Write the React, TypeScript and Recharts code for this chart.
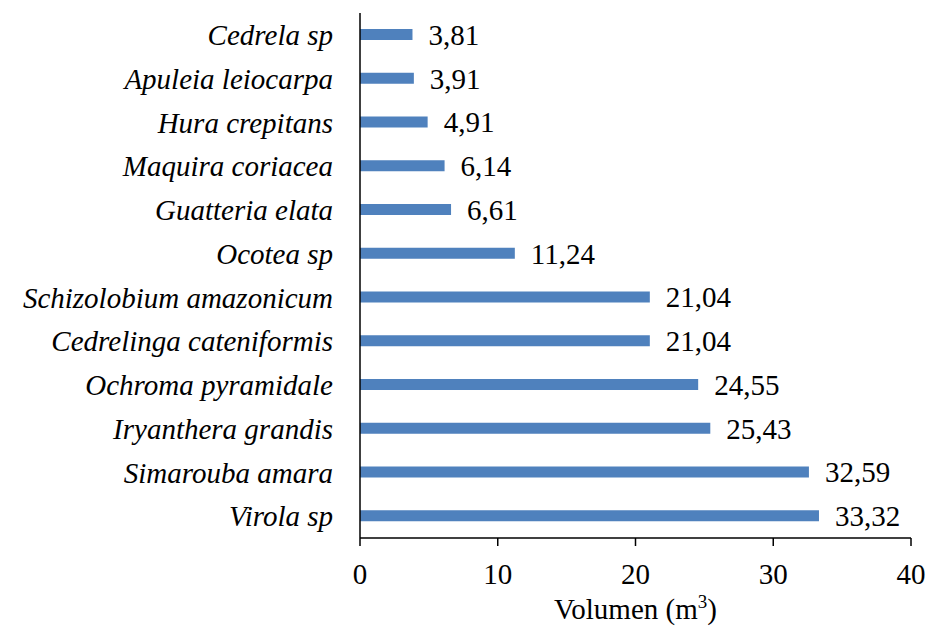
import { BarChart, Bar, XAxis, YAxis, LabelList, Label } from 'recharts';

const species = [
  'Cedrela sp',
  'Apuleia leiocarpa',
  'Hura crepitans',
  'Maquira coriacea',
  'Guatteria elata',
  'Ocotea sp',
  'Schizolobium amazonicum',
  'Cedrelinga cateniformis',
  'Ochroma pyramidale',
  'Iryanthera grandis',
  'Simarouba amara',
  'Virola sp',
];

const volumes = [3.81, 3.91, 4.91, 6.14, 6.61, 11.24, 21.04, 21.04, 24.55, 25.43, 32.59, 33.32];

const xTicks = [0, 10, 20, 30, 40];

const data = species.map((name, i) => ({ name, value: volumes[i] }));

const FONT = "'Liberation Serif', 'Times New Roman', serif";

function AxisTitle({ viewBox }: any) {
  const cx = viewBox.x + viewBox.width / 2;
  return (
    <text x={cx} y={619} textAnchor="middle" style={{ fontFamily: FONT, fontSize: 29 }} fill="#000">
      Volumen (m
      <tspan dy={-11} style={{ fontSize: 19 }}>3</tspan>
      <tspan dy={11}>)</tspan>
    </text>
  );
}

export default function App() {
  return (
    <div style={{ position: 'absolute', left: 0, top: 0, background: '#fff' }}>
      <BarChart
        width={928}
        height={629}
        data={data}
        layout="vertical"
        barSize={11}
        margin={{ top: 13, right: 17, bottom: 0, left: 0 }}
      >
        <XAxis
          type="number"
          domain={[0, 40]}
          ticks={xTicks}
          height={91}
          stroke="#000"
          strokeWidth={1.5}
          tickSize={8}
          tick={{ style: { fontFamily: FONT, fontSize: 29 }, fill: '#000', dy: 15 }}
        >
          <Label content={<AxisTitle />} />
        </XAxis>
        <YAxis
          type="category"
          dataKey="name"
          width={360}
          stroke="#000"
          strokeWidth={1.5}
          tickLine={false}
          interval={0}
          tick={{ style: { fontFamily: FONT, fontSize: 29, fontStyle: 'italic' }, fill: '#000', dx: -19 }}
        />
        <Bar dataKey="value" fill="#4F81BD" isAnimationActive={false}>
          <LabelList
            dataKey="value"
            position="right"
            offset={16}
            formatter={(v: any) => Number(v).toFixed(2).replace('.', ',')}
            style={{ fontFamily: FONT, fontSize: 29, fill: '#000' }}
          />
        </Bar>
      </BarChart>
    </div>
  );
}
